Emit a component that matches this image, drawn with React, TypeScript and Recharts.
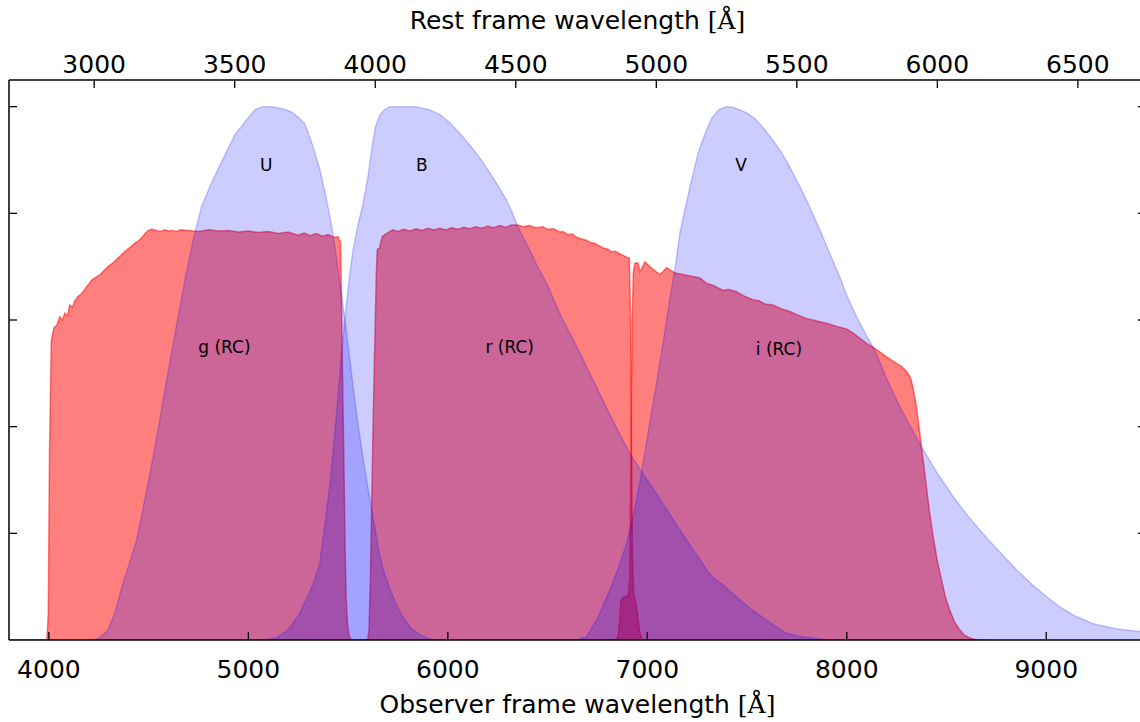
import { Area, ComposedChart, ReferenceDot, XAxis, YAxis } from "recharts"

const FONT = "DejaVu Sans"
const ONE_PLUS_Z = 1.409

// observer-frame wavelength (Å) and transmission for each filter
const gWave = [3800, 3990, 3997, 4003, 4012, 4025, 4040, 4055, 4068, 4080, 4093, 4105, 4118, 4130, 4145, 4160, 4175, 4189, 4200, 4214, 4235, 4256, 4280, 4306, 4325, 4346, 4368, 4389, 4410, 4431, 4450, 4465, 4482, 4498, 4515, 4540, 4560, 4580, 4600, 4620, 4640, 4660, 4700, 4750, 4800, 4850, 4900, 4950, 5000, 5050, 5100, 5150, 5200, 5250, 5280, 5310, 5340, 5370, 5400, 5430, 5450, 5462, 5467, 5474, 5479, 5485, 5490, 5497, 5505, 5515, 5600]
const gTrans = [0, 0, 0.05, 0.35, 0.56, 0.585, 0.59, 0.606, 0.6, 0.613, 0.608, 0.628, 0.624, 0.636, 0.644, 0.648, 0.655, 0.663, 0.667, 0.675, 0.68, 0.685, 0.694, 0.703, 0.708, 0.716, 0.724, 0.731, 0.737, 0.744, 0.749, 0.754, 0.762, 0.768, 0.77, 0.768, 0.766, 0.769, 0.767, 0.768, 0.766, 0.769, 0.768, 0.766, 0.769, 0.767, 0.768, 0.765, 0.767, 0.764, 0.766, 0.762, 0.765, 0.759, 0.763, 0.758, 0.762, 0.757, 0.76, 0.755, 0.756, 0.745, 0.63, 0.45, 0.33, 0.17, 0.08, 0.03, 0.008, 0, 0]

const rWave = [5550, 5598, 5605, 5612, 5617, 5625, 5634, 5641, 5646, 5659, 5666, 5671, 5684, 5700, 5724, 5750, 5780, 5810, 5840, 5870, 5900, 5930, 5960, 5990, 6020, 6050, 6080, 6110, 6140, 6170, 6200, 6230, 6260, 6290, 6320, 6351, 6380, 6410, 6440, 6476, 6500, 6530, 6560, 6577, 6600, 6625, 6645, 6670, 6690, 6712, 6735, 6760, 6779, 6800, 6820, 6840, 6862, 6880, 6895, 6910, 6916, 6921, 6926, 6932, 6940, 6950, 6960, 6970, 6978]
const rTrans = [0, 0, 0.02, 0.12, 0.225, 0.4, 0.56, 0.68, 0.732, 0.736, 0.75, 0.756, 0.76, 0.764, 0.769, 0.766, 0.77, 0.767, 0.771, 0.768, 0.772, 0.769, 0.772, 0.769, 0.773, 0.77, 0.774, 0.771, 0.775, 0.772, 0.776, 0.773, 0.777, 0.774, 0.778, 0.778, 0.775, 0.777, 0.773, 0.775, 0.77, 0.771, 0.765, 0.766, 0.76, 0.761, 0.755, 0.752, 0.75, 0.746, 0.744, 0.739, 0.735, 0.733, 0.728, 0.729, 0.724, 0.721, 0.718, 0.716, 0.6, 0.35, 0.15, 0.085, 0.075, 0.05, 0.02, 0.004, 0]

const iWave = [6845, 6855, 6862, 6868, 6880, 6895, 6905, 6912, 6918, 6924, 6930, 6938, 6953, 6963, 6988, 7013, 7063, 7097, 7139, 7197, 7263, 7296, 7330, 7378, 7410, 7447, 7490, 7529, 7560, 7590, 7629, 7670, 7714, 7750, 7798, 7850, 7898, 7950, 7998, 8030, 8065, 8100, 8140, 8170, 8199, 8240, 8274, 8301, 8315, 8324, 8336, 8349, 8362, 8374, 8387, 8399, 8415, 8433, 8453, 8475, 8495, 8516, 8540, 8566, 8590, 8617, 8650, 8700]
const iTrans = [0, 0.01, 0.04, 0.075, 0.08, 0.082, 0.085, 0.12, 0.35, 0.6, 0.69, 0.707, 0.707, 0.69, 0.709, 0.7, 0.685, 0.698, 0.688, 0.684, 0.679, 0.669, 0.665, 0.656, 0.657, 0.653, 0.644, 0.638, 0.636, 0.63, 0.628, 0.621, 0.616, 0.61, 0.603, 0.598, 0.594, 0.588, 0.583, 0.576, 0.566, 0.556, 0.547, 0.539, 0.531, 0.521, 0.513, 0.503, 0.495, 0.486, 0.465, 0.4375, 0.4, 0.363, 0.325, 0.2875, 0.24, 0.194, 0.15, 0.1125, 0.08, 0.056, 0.034, 0.019, 0.009, 0.004, 0, 0]

const uWave = [4200, 4230, 4260, 4296, 4330, 4364, 4400, 4440, 4480, 4523, 4557, 4590, 4625, 4657, 4690, 4723, 4765, 4807, 4857, 4932, 4990, 5035, 5073, 5110, 5148, 5180, 5216, 5250, 5283, 5320, 5358, 5390, 5424, 5455, 5484, 5512, 5542, 5575, 5609, 5634, 5659, 5685, 5709, 5740, 5774, 5815, 5860, 5900, 5930]
const uTrans = [0, 0, 0.006, 0.019, 0.05, 0.097, 0.14, 0.188, 0.262, 0.344, 0.415, 0.488, 0.56, 0.625, 0.69, 0.75, 0.813, 0.85, 0.89, 0.947, 0.975, 0.995, 1.0, 1.0, 0.998, 0.995, 0.99, 0.98, 0.968, 0.93, 0.883, 0.83, 0.763, 0.68, 0.602, 0.515, 0.426, 0.34, 0.265, 0.21, 0.157, 0.122, 0.097, 0.068, 0.043, 0.022, 0.01, 0.003, 0]

const bWave = [5080, 5141, 5200, 5250, 5292, 5330, 5358, 5385, 5409, 5430, 5450, 5467, 5484, 5503, 5524, 5550, 5574, 5600, 5620, 5638, 5660, 5685, 5709, 5780, 5843, 5910, 5960, 6010, 6060, 6110, 6160, 6211, 6250, 6294, 6325, 6351, 6380, 6411, 6450, 6495, 6535, 6576, 6620, 6662, 6705, 6752, 6800, 6850, 6912, 6970, 7030, 7090, 7150, 7210, 7263, 7300, 7328, 7390, 7447, 7520, 7597, 7650, 7697, 7760, 7815, 7880, 7920]
const bTrans = [0, 0.004, 0.02, 0.045, 0.077, 0.11, 0.144, 0.22, 0.293, 0.375, 0.46, 0.535, 0.602, 0.67, 0.73, 0.78, 0.816, 0.87, 0.925, 0.964, 0.985, 0.995, 1.0, 1.0, 1.0, 0.994, 0.985, 0.97, 0.95, 0.928, 0.904, 0.876, 0.853, 0.825, 0.8, 0.775, 0.753, 0.731, 0.7, 0.669, 0.635, 0.6, 0.57, 0.538, 0.505, 0.469, 0.432, 0.395, 0.35, 0.317, 0.283, 0.249, 0.214, 0.18, 0.152, 0.13, 0.118, 0.1, 0.081, 0.058, 0.0375, 0.024, 0.013, 0.007, 0.004, 0.001, 0]

const vWave = [6650, 6695, 6750, 6812, 6855, 6896, 6930, 6962, 7000, 7046, 7080, 7113, 7140, 7163, 7190, 7220, 7255, 7290, 7322, 7360, 7397, 7430, 7464, 7500, 7539, 7570, 7597, 7630, 7664, 7700, 7729, 7765, 7798, 7840, 7880, 7920, 7965, 7998, 8049, 8100, 8140, 8200, 8266, 8320, 8374, 8450, 8533, 8600, 8700, 8767, 8850, 8932, 9000, 9068, 9150, 9233, 9350, 9469, 9500]
const vTrans = [0, 0.006, 0.04, 0.094, 0.135, 0.181, 0.235, 0.294, 0.38, 0.482, 0.56, 0.64, 0.7, 0.763, 0.81, 0.86, 0.913, 0.95, 0.978, 0.995, 1.0, 0.999, 0.994, 0.988, 0.978, 0.965, 0.953, 0.937, 0.919, 0.897, 0.876, 0.85, 0.825, 0.79, 0.756, 0.72, 0.681, 0.648, 0.606, 0.57, 0.544, 0.49, 0.4375, 0.4, 0.363, 0.315, 0.269, 0.236, 0.192, 0.165, 0.132, 0.103, 0.082, 0.062, 0.044, 0.031, 0.021, 0.016, 0.015]

const obsTicks = [4000, 5000, 6000, 7000, 8000, 9000]
const restTicks = [3000, 3500, 4000, 4500, 5000, 5500, 6000, 6500]
const yTicks = [0.2, 0.4, 0.6, 0.8, 1.0]

const labelNames = ["U", "B", "V", "g (RC)", "r (RC)", "i (RC)"]
const labelWave = [5090, 5870, 7470, 4880, 6310, 7660]
const labelTrans = [0.89, 0.89, 0.89, 0.55, 0.55, 0.545]

const zip = (w: number[], t: number[]) => w.map((x, i) => ({ w: x, t: t[i] }))

const redFilters = [
  { name: "g", data: zip(gWave, gTrans) },
  { name: "r", data: zip(rWave, rTrans) },
  { name: "i", data: zip(iWave, iTrans) },
]
const blueFilters = [
  { name: "U", data: zip(uWave, uTrans) },
  { name: "B", data: zip(bWave, bTrans) },
  { name: "V", data: zip(vWave, vTrans) },
]

function BottomTick({ x, y, payload }: any) {
  return (
    <g>
      <line x1={x} y1={y} x2={x} y2={y - 8} stroke="#000" strokeWidth={1.3} />
      <text x={x} y={y + 38} textAnchor="middle" fontSize={25} fontFamily={FONT} fill="#000">
        {payload.value}
      </text>
    </g>
  )
}

function TopTick({ x, y, payload }: any) {
  return (
    <g>
      <line x1={x} y1={y} x2={x} y2={y + 8} stroke="#000" strokeWidth={1.3} />
      <text x={x} y={y - 7} textAnchor="middle" fontSize={25} fontFamily={FONT} fill="#000">
        {payload.value}
      </text>
    </g>
  )
}

// inward tick marks only, no labels
function SideTick({ x, y, dir }: any) {
  return <line x1={x} y1={y} x2={x + dir * 8} y2={y} stroke="#000" strokeWidth={1.3} />
}

function AxisTitle({ viewBox, text, baseline }: any) {
  const cx = viewBox.x + viewBox.width / 2
  return (
    <text x={cx} y={viewBox.y + baseline} textAnchor="middle" fontSize={25} fontFamily={FONT} fill="#000">
      {text} <tspan fontFamily="DejaVu Serif">[Å]</tspan>
    </text>
  )
}

export default function App() {
  return (
    <div style={{ position: "absolute", left: 0, top: 0, width: 1140, height: 722, overflow: "hidden", background: "#fff" }}>
      <ComposedChart width={1146} height={722} margin={{ top: 0, right: 0, bottom: 0, left: 9 }}>
        <XAxis
          xAxisId="bottom"
          dataKey="w"
          type="number"
          domain={[3800, 9500]}
          allowDataOverflow
          ticks={obsTicks}
          interval={0}
          height={82}
          tickSize={0}
          tickMargin={0}
          tickLine={false}
          tick={<BottomTick />}
          axisLine={{ stroke: "#000", strokeWidth: 1.5 }}
          label={{ content: (p: any) => <AxisTitle {...p} text="Observer frame wavelength" baseline={73} /> }}
        />
        <XAxis
          xAxisId="top"
          orientation="top"
          dataKey="w"
          type="number"
          domain={[3800 / ONE_PLUS_Z, 9500 / ONE_PLUS_Z]}
          allowDataOverflow
          ticks={restTicks}
          interval={0}
          height={80}
          tickSize={0}
          tickMargin={0}
          tickLine={false}
          tick={<TopTick />}
          axisLine={{ stroke: "#000", strokeWidth: 1.5 }}
          label={{ content: (p: any) => <AxisTitle {...p} text="Rest frame wavelength" baseline={29} /> }}
        />
        <YAxis
          yAxisId="left"
          type="number"
          domain={[0, 1.05]}
          allowDataOverflow
          ticks={yTicks}
          interval={0}
          mirror
          tickSize={0}
          tickMargin={0}
          tickLine={false}
          tick={<SideTick dir={1} />}
          axisLine={{ stroke: "#000", strokeWidth: 1.5 }}
        />
        <YAxis
          yAxisId="right"
          orientation="right"
          type="number"
          domain={[0, 1.05]}
          allowDataOverflow
          ticks={yTicks}
          interval={0}
          mirror
          tickSize={0}
          tickMargin={0}
          tickLine={false}
          tick={<SideTick dir={-1} />}
          axisLine={{ stroke: "#000", strokeWidth: 1.5 }}
        />
        {redFilters.map((f) => (
          <Area
            key={f.name}
            xAxisId="bottom"
            yAxisId="left"
            data={f.data}
            dataKey="t"
            type="linear"
            fill="#ff0000"
            fillOpacity={0.5}
            stroke="#ff0000"
            strokeOpacity={0.5}
            strokeWidth={1.5}
            dot={false}
            activeDot={false}
            isAnimationActive={false}
          />
        ))}
        {blueFilters.map((f) => (
          <Area
            key={f.name}
            xAxisId="bottom"
            yAxisId="left"
            data={f.data}
            dataKey="t"
            type="linear"
            fill="#0000ff"
            fillOpacity={0.2}
            stroke="#0000ff"
            strokeOpacity={0.2}
            strokeWidth={1.5}
            dot={false}
            activeDot={false}
            isAnimationActive={false}
          />
        ))}
        {labelNames.map((name, i) => (
          <ReferenceDot
            key={name}
            xAxisId="bottom"
            yAxisId="left"
            x={labelWave[i]}
            y={labelTrans[i]}
            r={0}
            fill="none"
            stroke="none"
            label={{ value: name, position: "center", fontSize: 17, fontFamily: FONT, fill: "#000" }}
          />
        ))}
      </ComposedChart>
    </div>
  )
}
